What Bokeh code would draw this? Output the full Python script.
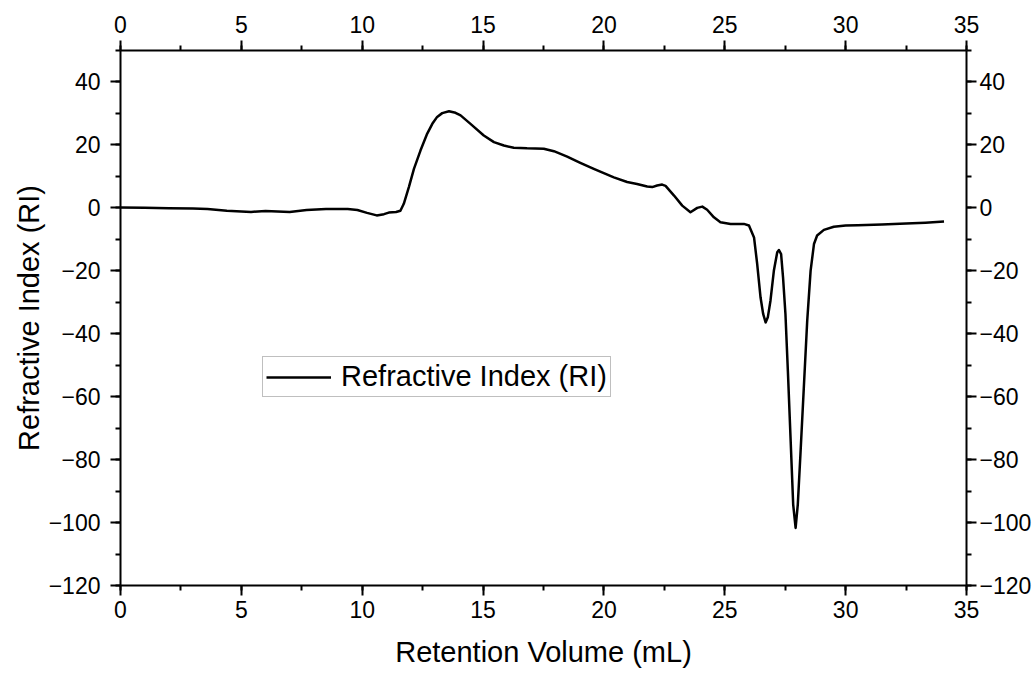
from bokeh.plotting import figure
from bokeh.models import Range1d, LinearAxis, SingleIntervalTicker, Legend, LegendItem
from bokeh.embed import file_html
from bokeh.resources import INLINE

# ---- data ----
retention_ml = [0, 1, 2, 3, 3.6, 4.4, 5.4, 6.0, 7.0, 7.7, 8.5, 9.4, 9.8, 10.2, 10.6, 10.9,
                11.1, 11.4, 11.58, 11.72, 11.93, 12.14, 12.41, 12.69, 12.9, 13.1, 13.31,
                13.59, 13.86, 14.07, 14.48, 15.03, 15.45, 15.86, 16.27, 16.82, 17.51,
                17.93, 18.48, 19.0, 19.58, 20.41, 20.96, 21.37, 21.79, 22.0, 22.2, 22.41,
                22.55, 22.9, 23.24, 23.58, 23.86, 24.07, 24.27, 24.55, 24.82, 25.24, 25.79,
                26.0, 26.21, 26.34, 26.48, 26.59, 26.69, 26.78, 26.89, 27.03, 27.17, 27.24,
                27.33, 27.41, 27.51, 27.61, 27.72, 27.83, 27.93, 28.02, 28.13, 28.27, 28.41,
                28.55, 28.69, 28.82, 29.1, 29.51, 30.0, 30.5, 31.5, 32.5, 33.3, 34.07]
refractive_index = [0.1, 0.0, -0.1, -0.2, -0.35, -0.9, -1.3, -1.0, -1.3, -0.7, -0.4, -0.4,
                    -0.7, -1.6, -2.4, -2.0, -1.5, -1.3, -0.9, 1.3, 6.6, 12.4, 18.2, 23.6,
                    26.7, 28.9, 30.1, 30.7, 30.2, 29.4, 26.7, 23.0, 20.9, 19.8, 19.1, 18.9,
                    18.8, 18.0, 16.3, 14.4, 12.4, 9.7, 8.2, 7.6, 6.8, 6.6, 7.1, 7.4, 7.0,
                    3.9, 0.7, -1.4, 0.0, 0.4, -0.6, -3.0, -4.6, -5.1, -5.1, -5.6, -9.4,
                    -17.8, -28.5, -33.8, -36.4, -34.8, -29.5, -20.0, -14.1, -13.4, -14.7,
                    -22.1, -33.8, -51.8, -73.0, -94.3, -101.7, -94.3, -78.3, -57.1, -35.9,
                    -20.0, -11.5, -8.8, -7.0, -6.0, -5.6, -5.5, -5.3, -5.0, -4.7, -4.3]

series_name = "Refractive Index (RI)"
x_title = "Retention Volume (mL)"
y_title = "Refractive Index (RI)"
x_ticks = [0, 5, 10, 15, 20, 25, 30, 35]
y_ticks = [40, 20, 0, -20, -40, -60, -80, -100, -120]

FONT = "Liberation Sans"

p = figure(width=1034, height=673, output_backend="svg", toolbar_location=None,
           x_range=Range1d(0, 35), y_range=Range1d(-120, 50),
           x_axis_location=None, y_axis_location=None,
           min_border_left=120, min_border_right=68, min_border_top=50, min_border_bottom=88)
p.outline_line_color = None
p.xgrid.visible = False
p.ygrid.visible = False
p.background_fill_color = "white"
p.border_fill_color = "white"

y_over = {v: ("\u2212" + str(-v)) if v < 0 else str(v) for v in y_ticks}
x_over = {v: str(v) for v in x_ticks}


def style(ax, standoff, label_size="23px"):
    ax.axis_line_color = "black"
    ax.axis_line_width = 2
    ax.major_tick_line_color = "black"
    ax.major_tick_line_width = 2
    ax.minor_tick_line_color = "black"
    ax.minor_tick_line_width = 2
    ax.major_tick_in = 0
    ax.major_tick_out = 10
    ax.minor_tick_in = 0
    ax.minor_tick_out = 5
    ax.major_label_text_font = FONT
    ax.major_label_text_font_size = label_size
    ax.major_label_text_color = "black"
    ax.major_label_standoff = standoff
    ax.axis_label_text_font = FONT
    ax.axis_label_text_font_size = "29px"
    ax.axis_label_text_font_style = "normal"
    ax.axis_label_text_color = "black"


xb = LinearAxis(ticker=SingleIntervalTicker(interval=5, num_minor_ticks=2), axis_label=x_title)
style(xb, 5)
xb.axis_label_standoff = 15
xb.major_label_overrides = x_over
p.add_layout(xb, "below")

xt = LinearAxis(ticker=SingleIntervalTicker(interval=5, num_minor_ticks=2))
style(xt, 8)
xt.major_label_overrides = x_over
p.add_layout(xt, "above")

yl = LinearAxis(ticker=SingleIntervalTicker(interval=20, num_minor_ticks=2), axis_label=y_title)
style(yl, 10)
yl.axis_label_standoff = 1
yl.major_label_overrides = y_over
p.add_layout(yl, "left")

yr = LinearAxis(ticker=SingleIntervalTicker(interval=20, num_minor_ticks=2))
style(yr, 3)
yr.major_label_overrides = y_over
p.add_layout(yr, "right")

r = p.line(retention_ml, refractive_index, line_color="black", line_width=2.5,
           line_join="round")

legend = Legend(items=[LegendItem(label=series_name, renderers=[r])],
                location=(142, 188))
legend.border_line_color = "#808080"
legend.border_line_width = 1
legend.background_fill_alpha = 1
legend.label_text_font = FONT
legend.label_text_font_size = "29px"
legend.label_text_color = "black"
legend.glyph_width = 65
legend.glyph_height = 30
legend.label_standoff = 10
legend.padding = 3
legend.spacing = 0
legend.margin = 0
p.add_layout(legend, "center")

open("out.html", "w").write(file_html(p, INLINE))
